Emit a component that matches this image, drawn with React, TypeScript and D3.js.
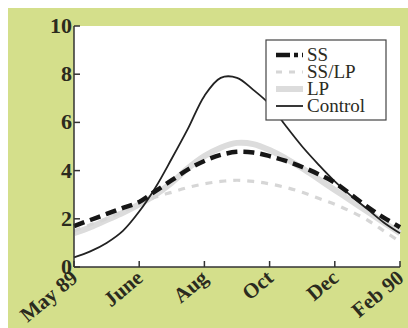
import { useMemo } from "react";
import * as d3 from "d3";

// months since May 89, sampled every half axis step
const steps = [0, 0.5, 1, 1.5, 2, 2.5, 3, 3.5, 4, 4.5, 5, 5.5, 6, 6.5, 7, 7.5, 8, 8.5, 9, 9.5, 10];
const ssValues = [1.7, 1.95, 2.2, 2.45, 2.7, 3.15, 3.6, 4.05, 4.4, 4.65, 4.78, 4.75, 4.6, 4.4, 4.15, 3.85, 3.5, 3.0, 2.5, 2.05, 1.65];
const sslpValues = [1.5, 1.75, 2.0, 2.3, 2.6, 2.9, 3.1, 3.3, 3.45, 3.55, 3.6, 3.55, 3.45, 3.3, 3.1, 2.85, 2.6, 2.3, 1.95, 1.5, 1.05];
const lpValues = [1.4, 1.65, 1.95, 2.25, 2.6, 3.0, 3.5, 4.1, 4.6, 4.95, 5.15, 5.1, 4.85, 4.5, 4.1, 3.65, 3.2, 2.75, 2.3, 1.85, 1.4];
const controlValues = [0.4, 0.65, 1.0, 1.5, 2.3, 3.3, 4.5, 5.75, 7.1, 7.85, 7.85, 7.35, 6.75, 5.85, 5.0, 4.25, 3.55, 2.95, 2.4, 1.85, 1.4];

const xTickValues = [0, 2, 4, 6, 8, 10];
const xTickLabels = ["May 89", "June", "Aug", "Oct", "Dec", "Feb 90"];
const yTickValues = [0, 2, 4, 6, 8, 10];

const series = [
  { name: "LP", values: lpValues, stroke: "#dcdcdc", width: 6, dash: "" },
  { name: "SS/LP", values: sslpValues, stroke: "#d6d6d6", width: 3.2, dash: "7 7" },
  { name: "Control", values: controlValues, stroke: "#222", width: 1.8, dash: "" },
  { name: "SS", values: ssValues, stroke: "#161616", width: 4.5, dash: "11 6" },
];
const legendOrder = ["SS", "SS/LP", "LP", "Control"];

export default function App() {
  const layout = useMemo(() => {
    const width = 408;
    const height = 328;
    const plot = { left: 74, right: 400, top: 26, bottom: 267 };
    const x = d3.scaleLinear().domain([0, 10]).range([plot.left, plot.right]);
    const y = d3.scaleLinear().domain([0, 10]).range([plot.bottom, plot.top]);
    return { width, height, plot, x, y };
  }, []);
  const { x, y, plot } = layout;
  const line = d3
    .line<number>()
    .x((_, i) => x(steps[i]))
    .y((v) => y(v))
    .curve(d3.curveCatmullRom);
  const font = "Liberation Serif";
  const ink = "#2b2b1e";
  const legend = { x: 266, y: 40, w: 120, h: 80, row: 17 };

  return (
    <svg
      width={layout.width}
      height={layout.height}
      style={{ position: "absolute", left: 0, top: 0 }}
      viewBox={`0 0 ${layout.width} ${layout.height}`}
    >
      <rect x={0} y={0} width={layout.width} height={layout.height} fill="#ffffff" />
      <rect x={8} y={8} width={layout.width - 8} height={layout.height - 8} fill="#d4df8b" />
      <rect x={plot.left} y={plot.top} width={plot.right - plot.left} height={plot.bottom - plot.top} fill="#ffffff" />

      {series.map((s) => (
        <path
          key={s.name}
          d={line(s.values) ?? ""}
          fill="none"
          stroke={s.stroke}
          strokeWidth={s.width}
          strokeDasharray={s.dash || undefined}
        />
      ))}

      <line x1={plot.left} x2={plot.left} y1={plot.top} y2={plot.bottom} stroke="#333" strokeWidth={1.5} />
      <line x1={plot.left} x2={plot.right} y1={plot.bottom} y2={plot.bottom} stroke="#333" strokeWidth={1.5} />
      {yTickValues.map((t) => (
        <g key={t}>
          <line x1={plot.left} x2={plot.left + 6} y1={y(t)} y2={y(t)} stroke="#333" strokeWidth={1.5} />
          <text x={plot.left - 2} y={y(t) + 7} textAnchor="end" style={{ fontFamily: font }} fontWeight="bold" fontSize={22} fill={ink}>
            {t}
          </text>
        </g>
      ))}
      {xTickValues.map((t, i) => (
        <g key={t}>
          <line x1={x(t)} x2={x(t)} y1={plot.bottom} y2={plot.bottom - 6} stroke="#333" strokeWidth={1.5} />
          <text
            transform={`translate(${x(t) + 5}, ${plot.bottom + 13}) rotate(-40)`}
            textAnchor="end"
            style={{ fontFamily: font }}
            fontWeight="bold"
            fontSize={21}
            fill={ink}
          >
            {xTickLabels[i]}
          </text>
        </g>
      ))}

      <rect x={legend.x} y={legend.y} width={legend.w} height={legend.h} fill="#fff" stroke="#444" strokeWidth={1.2} />
      {legendOrder.map((name, i) => {
        const s = series.find((d) => d.name === name)!;
        const cy = legend.y + 15 + i * legend.row;
        return (
          <g key={name}>
            <line
              x1={legend.x + 10}
              x2={legend.x + 37}
              y1={cy}
              y2={cy}
              stroke={s.stroke}
              strokeWidth={s.width}
              strokeDasharray={name === "SS" ? "14 4 4 4" : name === "SS/LP" ? "6 7" : undefined}
            />
            <text x={legend.x + 41} y={cy + 6} style={{ fontFamily: font }} fontSize={19} fill={ink}>
              {name}
            </text>
          </g>
        );
      })}
    </svg>
  );
}
